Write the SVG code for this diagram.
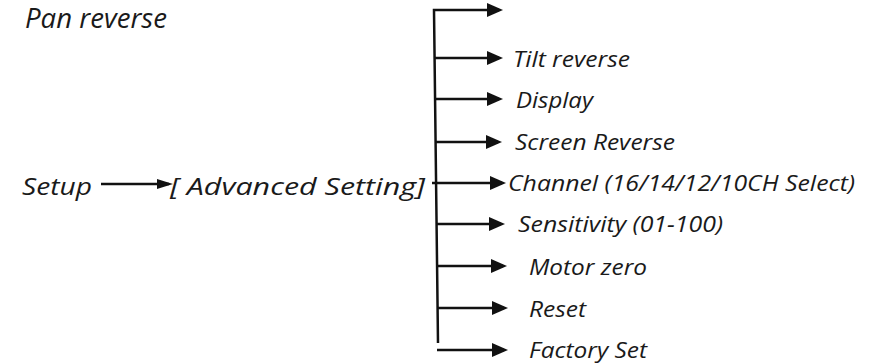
<svg xmlns="http://www.w3.org/2000/svg" width="872" height="364" viewBox="0 0 872 364">
<style>
text{font-family:"Open Sans","Noto Sans","Liberation Sans",sans-serif;font-style:italic;fill:#1a1a1a;}
.big{font-size:27px;}
.mid{font-size:24px;}
.sm{font-size:22px;}
.ln{fill:none;stroke:#111;stroke-width:2.5;}
</style>
<defs>
<marker id="ah" markerUnits="userSpaceOnUse" markerWidth="18" markerHeight="16" refX="12" refY="7" orient="auto">
<path d="M0,0 L16,7 L0,14 z" fill="#111"/>
</marker>
<marker id="ahs" markerUnits="userSpaceOnUse" markerWidth="18" markerHeight="12" refX="12" refY="5" orient="auto">
<path d="M0,0 L16,5 L0,10 z" fill="#111"/>
</marker>
</defs>
<rect width="872" height="364" fill="#fff"/>
<g id="connectors">
<path class="ln" d="M438,343 L434,10 L499,10" marker-end="url(#ah)"/>
<path class="ln" d="M434,58 H499" marker-end="url(#ah)"/>
<path class="ln" d="M434,99 H499" marker-end="url(#ah)"/>
<path class="ln" d="M435,142 H498" marker-end="url(#ah)"/>
<path class="ln" d="M432,183 H502" marker-end="url(#ah)"/>
<path class="ln" d="M436,224 H501" marker-end="url(#ah)"/>
<path class="ln" d="M437,266 H503" marker-end="url(#ah)"/>
<path class="ln" d="M437,308 H504" marker-end="url(#ah)"/>
<path class="ln" d="M437,350 H504" marker-end="url(#ah)"/>
<path class="ln" d="M101,184 H169" marker-end="url(#ahs)"/>
</g>
<g id="pan-reverse"><text class="big" x="25" y="28" textLength="142" lengthAdjust="spacingAndGlyphs">Pan reverse</text></g>
<g id="setup"><text class="mid" x="22" y="195" textLength="70" lengthAdjust="spacingAndGlyphs">Setup</text></g>
<g id="advanced-setting"><text class="mid" x="170" y="195" textLength="255" lengthAdjust="spacingAndGlyphs">[ Advanced Setting]</text></g>
<g id="tilt-reverse"><text class="sm" x="513" y="67" textLength="117" lengthAdjust="spacingAndGlyphs">Tilt reverse</text></g>
<g id="display"><text class="sm" x="516" y="108" textLength="77" lengthAdjust="spacingAndGlyphs">Display</text></g>
<g id="screen-reverse"><text class="sm" x="515" y="150" textLength="160" lengthAdjust="spacingAndGlyphs">Screen Reverse</text></g>
<g id="channel"><text class="sm" x="508" y="191" textLength="347" lengthAdjust="spacingAndGlyphs">Channel (16/14/12/10CH Select)</text></g>
<g id="sensitivity"><text class="sm" x="518" y="232" textLength="205" lengthAdjust="spacingAndGlyphs">Sensitivity (01-100)</text></g>
<g id="motor-zero"><text class="sm" x="529" y="275" textLength="118" lengthAdjust="spacingAndGlyphs">Motor zero</text></g>
<g id="reset"><text class="sm" x="529" y="317" textLength="57" lengthAdjust="spacingAndGlyphs">Reset</text></g>
<g id="factory-set"><text class="sm" x="529" y="358" textLength="118" lengthAdjust="spacingAndGlyphs">Factory Set</text></g>
</svg>
